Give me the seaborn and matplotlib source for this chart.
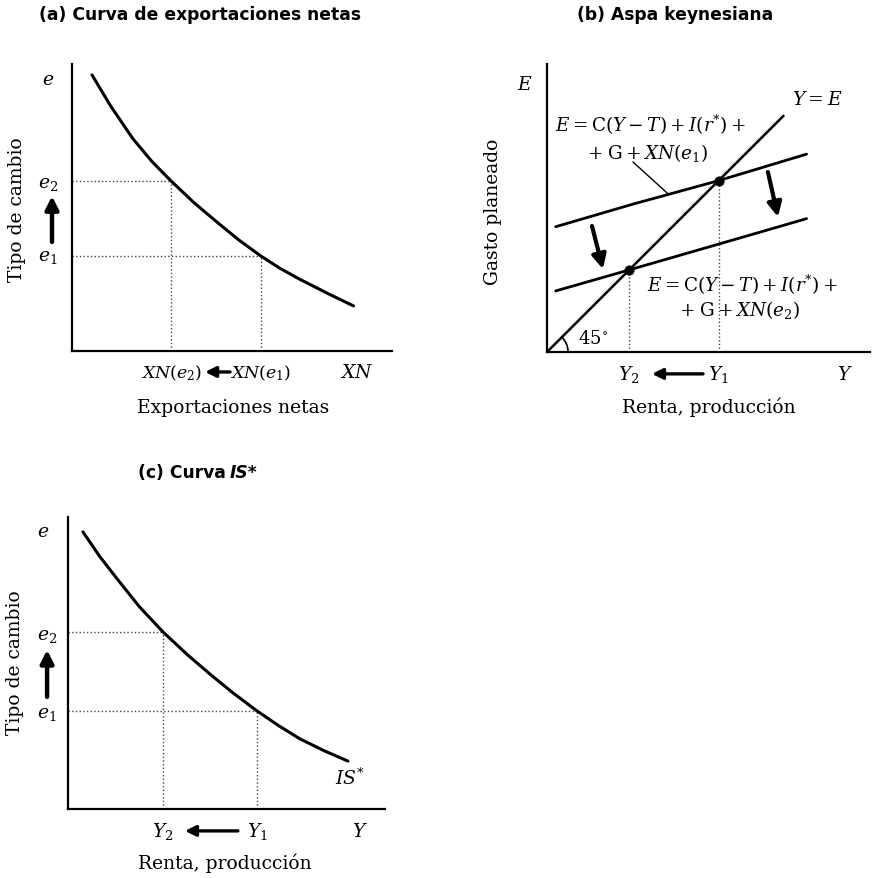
import matplotlib
matplotlib.use("Agg")
import matplotlib.pyplot as plt
import seaborn as sns
import pandas as pd
from matplotlib.patches import Arc

# (a) net exports schedule: exchange rate e against net exports XN
xn_curve = [6.25, 12, 19, 25, 31, 38, 45, 52, 59, 65, 71, 80, 88]
e_curve_a = [96.2, 85.5, 74, 66, 59.2, 51.8, 45.2, 38.8, 33.1, 28.8, 25.1, 20, 15.7]
xn_levels = [31, 59]          # XN(e2), XN(e1)
e_levels_a = [59.2, 33.1]     # e2, e1

# (b) Keynesian cross: 45-degree line and two planned-expenditure lines
line45_y = [0, 82]
line45_e = [0, 82]
plan_e1_y = [3, 30, 59.5, 90]
plan_e1_E = [43.5, 51.4, 59.5, 68.7]
plan_e2_y = [3, 28.5, 60, 90]
plan_e2_E = [21.2, 28.5, 37.6, 46.3]
equil_Y = [59.5, 28.5]        # Y1, Y2
equil_E = [59.5, 28.5]

# (c) IS* curve: exchange rate e against income Y
y_curve = [4.7, 10, 15.5, 22.5, 30, 37.5, 45, 52, 59.6, 66.5, 73.2, 80.7, 88.3]
e_curve_c = [94.9, 86.5, 78.8, 69.3, 60.6, 53, 46, 39.8, 33.6, 28.5, 24.0, 20, 16.4]
y_levels = [30, 59.6]         # Y2, Y1
e_levels_c = [60.6, 33.6]     # e2, e1

sns.set_theme(style="white")
plt.rcParams.update({
    "font.family": ["DejaVu Serif"],
    "mathtext.fontset": "dejavuserif",
    "text.color": "black",
})

W, H = 876, 879
fig = plt.figure(figsize=(W / 100, H / 100), dpi=100)


def panel(left, top, right, bottom, xmax=100, ymax=100):
    ax = fig.add_axes([left / W, 1 - bottom / H, (right - left) / W, (bottom - top) / H])
    ax.set_xlim(0, xmax)
    ax.set_ylim(0, ymax)
    ax.set_xticks([])
    ax.set_yticks([])
    for s in ("top", "right"):
        ax.spines[s].set_visible(False)
    for s in ("left", "bottom"):
        ax.spines[s].set_color("black")
        ax.spines[s].set_linewidth(1.6)
    ax.set_facecolor("white")
    return ax


def arrow(ax, tail, head, lw=2.6, scale=11):
    ax.annotate("", xy=head, xytext=tail, xycoords="data", textcoords="data",
                arrowprops=dict(arrowstyle="-|>,head_length=0.7,head_width=0.35",
                                lw=lw, color="black", shrinkA=0, shrinkB=0,
                                mutation_scale=scale),
                annotation_clip=False)


def guides(ax, xs, ys):
    for x, y in zip(xs, ys):
        ax.plot([0, x], [y, y], ls=":", lw=1.0, color="#444444")
        ax.plot([x, x], [0, y], ls=":", lw=1.0, color="#444444")


TITLE = dict(family=["DejaVu Sans"], fontweight="bold", fontsize=12.3,
             va="center", color="black")
LAB = 13.5
ITL = 13.5
XNL = 12.5
EQ = 13.2

# ---------- (a) ----------
ax_a = panel(72, 65, 392, 352)
fig.text(200 / W, 1 - 15 / H, "(a) Curva de exportaciones netas", ha="center", **TITLE)
guides(ax_a, xn_levels, e_levels_a)
sns.lineplot(x=xn_curve, y=e_curve_a, ax=ax_a, color="black", lw=2.2, sort=False)
ax_a.text(-7.5, 94.8, r"$e$", fontsize=ITL, ha="center", va="center")
ax_a.text(-7.5, 58.5, r"$e_2$", fontsize=ITL, ha="center", va="center")
ax_a.text(-7.5, 33.1, r"$e_1$", fontsize=ITL, ha="center", va="center")
arrow(ax_a, (-6.25, 38), (-6.25, 54), lw=3.2, scale=11)
ax_a.text(-17.2, 49.5, "Tipo de cambio", rotation=90, fontsize=LAB, ha="center", va="center")
ax_a.text(xn_levels[0], -7.3, r"$XN(e_2)$", fontsize=XNL, ha="center", va="center")
ax_a.text(xn_levels[1], -7.3, r"$XN(e_1)$", fontsize=XNL, ha="center", va="center")
ax_a.text(89, -7.3, r"$XN$", fontsize=ITL, ha="center", va="center")
arrow(ax_a, (49.4, -7.3), (41.6, -7.3), lw=2.4, scale=9)
ax_a.text(50.3, -19.5, "Exportaciones netas", fontsize=LAB, ha="center", va="center")

# ---------- (b) ----------
ax_b = panel(547, 65, 870, 353, xmax=112, ymax=100)
fig.text(675 / W, 1 - 15 / H, "(b) Aspa keynesiana", ha="center", **TITLE)
for x, y in zip(equil_Y, equil_E):
    ax_b.plot([x, x], [0, y], ls=":", lw=1.0, color="#444444")
sns.lineplot(x=line45_y, y=line45_e, ax=ax_b, color="black", lw=1.8)
sns.lineplot(x=plan_e1_y, y=plan_e1_E, ax=ax_b, color="black", lw=2.0)
sns.lineplot(x=plan_e2_y, y=plan_e2_E, ax=ax_b, color="black", lw=2.0)
sns.scatterplot(x=equil_Y, y=equil_E, ax=ax_b, color="black", s=45, edgecolor="black", zorder=5)
arrow(ax_b, (15.6, 43.75), (19.4, 28.8), lw=3.0, scale=12)
arrow(ax_b, (76.6, 62.5), (80.1, 46.9), lw=3.0, scale=12)
ax_b.add_patch(Arc((0, 0), 14.6, 14.6, theta1=0, theta2=45, color="black", lw=1.2))
ax_b.text(16, 4.8, r"$45^{\circ}$", fontsize=13, ha="center", va="center")
ax_b.text(-7.6, 93, r"$E$", fontsize=ITL, ha="center", va="center", clip_on=False)
ax_b.text(93.6, 87.8, r"$Y = E$", fontsize=ITL, ha="center", va="center")
ax_b.text(2.8, 79.2, r"$E = \mathrm{C}(Y - T) + I(r^{*}) +$", fontsize=EQ, ha="left", va="center")
ax_b.text(34.8, 69.4, r"$+\;\mathrm{G} + XN(e_1)$", fontsize=EQ, ha="center", va="center")
ax_b.plot([29.8, 42.0], [66.0, 54.9], color="black", lw=1.0)
ax_b.text(34.7, 23.6, r"$E = \mathrm{C}(Y - T) + I(r^{*}) +$", fontsize=EQ, ha="left", va="center")
ax_b.text(66.6, 14.9, r"$+\;\mathrm{G} + XN(e_2)$", fontsize=EQ, ha="center", va="center")
ax_b.text(equil_Y[1], -7.6, r"$Y_2$", fontsize=ITL, ha="center", va="center")
ax_b.text(equil_Y[0], -7.6, r"$Y_1$", fontsize=ITL, ha="center", va="center")
ax_b.text(103.3, -7.6, r"$Y$", fontsize=ITL, ha="center", va="center")
arrow(ax_b, (54.1, -7.6), (36.4, -7.6), lw=2.4, scale=9)
ax_b.text(56.2, -18.75, "Renta, producción", fontsize=LAB, ha="center", va="center")
ax_b.text(-18.7, 49, "Gasto planeado", rotation=90, fontsize=LAB, ha="center", va="center")

# ---------- (c) ----------
ax_c = panel(68, 518, 385, 810)
fig.text(226 / W, 1 - 473 / H, "(c) Curva", ha="right", **TITLE)
fig.text(230 / W, 1 - 473 / H, "IS*", ha="left", style="italic", **TITLE)
guides(ax_c, y_levels, e_levels_c)
sns.lineplot(x=y_curve, y=e_curve_c, ax=ax_c, color="black", lw=2.2, sort=False)
ax_c.text(89, 11, r"$IS^{*}$", fontsize=ITL, ha="center", va="center")
ax_c.text(-7.9, 95.2, r"$e$", fontsize=ITL, ha="center", va="center")
ax_c.text(-6.6, 59.5, r"$e_2$", fontsize=ITL, ha="center", va="center")
ax_c.text(-6.6, 32.8, r"$e_1$", fontsize=ITL, ha="center", va="center")
arrow(ax_c, (-6.6, 38.4), (-6.6, 54.5), lw=3.2, scale=11)
ax_c.text(-16.7, 50.3, "Tipo de cambio", rotation=90, fontsize=LAB, ha="center", va="center")
ax_c.text(y_levels[0], -7.5, r"$Y_2$", fontsize=ITL, ha="center", va="center")
ax_c.text(y_levels[1], -7.5, r"$Y_1$", fontsize=ITL, ha="center", va="center")
ax_c.text(92.1, -7.5, r"$Y$", fontsize=ITL, ha="center", va="center")
arrow(ax_c, (53.6, -7.5), (36.9, -7.5), lw=2.4, scale=9)
ax_c.text(49.5, -18.2, "Renta, producción", fontsize=LAB, ha="center", va="center")

for ax in (ax_a, ax_b, ax_c):
    if ax.get_legend() is not None:
        ax.get_legend().remove()

fig.savefig("out.png", dpi=100, facecolor="white")
